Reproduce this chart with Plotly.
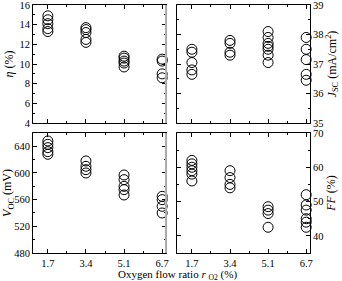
import plotly.graph_objects as go

x_labels = ["1.7", "3.4", "5.1", "6.7"]

eta = [
    [14.9, 14.5, 14.1, 13.6, 13.3],
    [13.7, 13.5, 13.2, 12.5, 12.2],
    [10.8, 10.6, 10.3, 10.1, 9.7],
    [10.5, 10.3, 9.0, 8.6],
]
jsc = [
    [37.5, 37.4, 37.05, 36.8, 36.65],
    [37.8, 37.7, 37.4, 37.3],
    [38.1, 37.9, 37.7, 37.6, 37.5, 37.3, 37.05],
    [37.9, 37.5, 37.15, 36.65, 36.45],
]
voc = [
    [648, 643, 638, 632, 628],
    [618, 610, 605, 600],
    [597, 590, 580, 575, 567],
    [565, 560, 550, 540],
]
ff = [
    [62, 61, 60, 59, 58, 56],
    [59, 57, 55, 54],
    [48.5, 47.5, 46.5, 42.5],
    [52, 49, 47.5, 45, 44, 42.5],
]

FONT = "Times New Roman, Liberation Serif, serif"

def flatten(groups):
    xs, ys = [], []
    for i, g in enumerate(groups):
        for v in g:
            xs.append(i)
            ys.append(v)
    return xs, ys

fig = go.Figure()
panels = [(eta, "x", "y"), (jsc, "x2", "y2"), (voc, "x3", "y3"), (ff, "x4", "y4")]
for data, xa, ya in panels:
    xs, ys = flatten(data)
    fig.add_trace(go.Scatter(
        x=xs, y=ys, mode="markers", xaxis=xa, yaxis=ya, showlegend=False,
        marker=dict(symbol="circle-open", size=10, color="black", line=dict(width=1, color="black")),
        cliponaxis=False,
    ))

xdom_l = [0, 0.480]
xdom_r = [0.520, 1]
ydom_t = [0.524, 1]
ydom_b = [0, 0.484]

def xaxis(dom, anchor, labels):
    return dict(
        domain=dom, anchor=anchor, range=[-0.39, 3.1], automargin=False,
        tickmode="array", tickvals=[0, 1, 2, 3], ticktext=x_labels,
        showticklabels=labels, ticks="inside", ticklen=4, tickcolor="black",
        showline=True, linecolor="black", linewidth=1, mirror="ticks",
        showgrid=False, zeroline=False,
        minor=dict(ticks="inside", ticklen=2, tickvals=[0.5, 1.5, 2.5], tickcolor="black"),
        tickfont=dict(family=FONT, size=10.5, color="black"),
    )

def yaxis(dom, anchor, rng, dtick, mdtick, side, title, tickvals=None):
    d = dict(
        domain=dom, anchor=anchor, range=rng, side=side, automargin=False,
        ticks="inside", ticklen=4, tickcolor="black", ticklabeloverflow="allow",
        showline=True, linecolor="black", linewidth=1, mirror="ticks",
        showgrid=False, zeroline=False,
        minor=dict(ticks="inside", ticklen=2, dtick=mdtick, tick0=0, tickcolor="black"),
        tickfont=dict(family=FONT, size=10.5, color="black"),
        title=dict(text=title, font=dict(family=FONT, size=12, color="black"), standoff=3),
    )
    if tickvals is not None:
        d.update(tickmode="array", tickvals=tickvals)
    else:
        d.update(dtick=dtick, tick0=0)
    return d

fig.update_layout(
    template="none",
    width=342, height=281,
    margin=dict(l=33, r=32, t=5, b=28, autoexpand=False),
    paper_bgcolor="white", plot_bgcolor="white",
    xaxis=xaxis(xdom_l, "y", False),
    xaxis2=xaxis(xdom_r, "y2", False),
    xaxis3=xaxis(xdom_l, "y3", True),
    xaxis4=xaxis(xdom_r, "y4", True),
    yaxis=yaxis(ydom_t, "x", [4, 16], 2, 1, "left", "<i>η</i> (%)"),
    yaxis2=yaxis(ydom_t, "x2", [35, 39], 1, 0.5, "right", "<i>J</i><sub>SC</sub> (mA/cm<sup>2</sup>)"),
    yaxis3=yaxis(ydom_b, "x3", [480, 660], 40, 20, "left", "<i>V</i><sub>OC</sub> (mV)", tickvals=[480, 520, 560, 600, 640]),
    yaxis4=yaxis(ydom_b, "x4", [35, 70], 10, 5, "right", "<i>FF</i> (%)", tickvals=[40, 50, 60, 70]),
    annotations=[dict(
        text="Oxygen flow ratio <i>r</i> <sub>O2</sub> (%)", xref="paper", yref="paper",
        x=0.52, y=-0.088, xanchor="center", yanchor="middle", showarrow=False,
        font=dict(family=FONT, size=11, color="black"),
    )],
    shapes=[
        dict(type="line", xref="x domain", yref="y domain", x0=1, x1=1, y0=0, y1=1,
             line=dict(color="#b0b0b0", width=2)),
        dict(type="line", xref="x3 domain", yref="y3 domain", x0=1, x1=1, y0=0, y1=1,
             line=dict(color="#b0b0b0", width=2)),
    ],
)

fig.write_html("out.html", config={"displayModeBar": False},
               post_script="document.body.style.margin='0';document.body.style.overflow='hidden';")
